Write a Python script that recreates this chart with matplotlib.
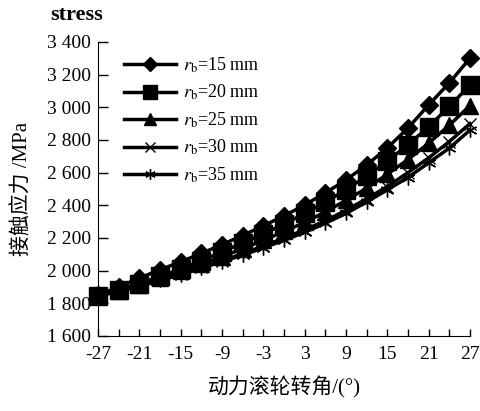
import matplotlib.pyplot as plt
import numpy as np

plt.rcParams['font.family'] = ['Liberation Serif', 'Noto Sans CJK SC']
plt.rcParams['mathtext.fontset'] = 'stix'
plt.rcParams['axes.unicode_minus'] = False

angle = [-27, -24, -21, -18, -15, -12, -9, -6, -3, 0, 3, 6, 9, 12, 15, 18, 21, 24, 27]

rb15 = [1850, 1900, 1955, 2005, 2055, 2105, 2160, 2215, 2275, 2335, 2402, 2476, 2555, 2647, 2751, 2873, 3014, 3149, 3300]
rb20 = [1845, 1880, 1920, 1965, 2010, 2060, 2115, 2170, 2225, 2285, 2350, 2420, 2495, 2580, 2670, 2770, 2880, 3005, 3135]
rb25 = [1845, 1878, 1915, 1955, 1995, 2040, 2085, 2135, 2185, 2240, 2295, 2360, 2430, 2505, 2590, 2680, 2780, 2890, 3010]
rb30 = [1845, 1875, 1910, 1945, 1980, 2020, 2060, 2105, 2150, 2200, 2250, 2305, 2370, 2440, 2515, 2600, 2690, 2790, 2900]
rb35 = [1845, 1873, 1905, 1940, 1975, 2015, 2055, 2095, 2140, 2185, 2235, 2290, 2350, 2420, 2495, 2570, 2660, 2750, 2860]

labels = [r'$r_{\rm b}$=15 mm', r'$r_{\rm b}$=20 mm', r'$r_{\rm b}$=25 mm',
          r'$r_{\rm b}$=30 mm', r'$r_{\rm b}$=35 mm']
markers = ['D', 's', '^', 'x', (6, 2, 0)]
msizes = [9, 13, 11, 9, 10]

fig = plt.figure(figsize=(4.81, 4.11), dpi=100)
ax = fig.add_axes([0.204, 0.1825, 0.773, 0.7155])

for ys, lab, m, ms in zip([rb15, rb20, rb25, rb30, rb35], labels, markers, msizes):
    ax.plot(angle, ys, color='k', linewidth=2.5, marker=m, markersize=ms,
            markeredgewidth=1.0, label=lab, clip_on=False)

ax.set_xlim(-27, 27)
ax.set_ylim(1600, 3400)
ax.set_xticks(np.arange(-27, 28, 6))
ax.set_xticks(np.arange(-27, 28, 3), minor=True)
ax.set_yticks(np.arange(1600, 3401, 200))
ax.set_yticklabels(['{:,}'.format(v).replace(',', ' ') for v in range(1600, 3401, 200)])
ax.tick_params(which='both', direction='in', labelsize=14, width=1)
ax.tick_params(axis='y', length=7, pad=5)
ax.tick_params(axis='x', which='both', length=5, pad=7)
ax.spines['top'].set_visible(False)
ax.spines['right'].set_visible(False)

ax.set_ylabel('接触应力 /MPa', fontsize=15, labelpad=10)
ax.set_xlabel('动力滚轮转角/(°)', fontsize=15, labelpad=10)
fig.text(0.16, 0.963, 'stress', fontsize=16, fontweight='bold', ha='center', va='center')

ax.legend(loc='upper left', bbox_to_anchor=(0.045, 0.985), frameon=False, fontsize=13,
          handlelength=2.9, handletextpad=0.35, labelspacing=0.45, borderpad=0,
          markerscale=0.75)

plt.savefig('out.png', dpi=100)
